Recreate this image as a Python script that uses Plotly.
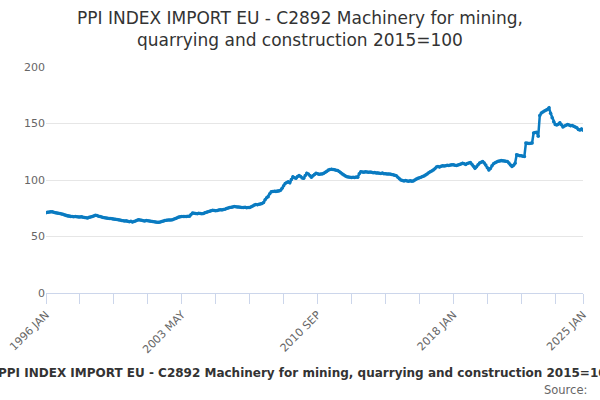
import plotly.graph_objects as go

# Monthly index values, Jan 1996 .. Jan 2025 (2015=100)
months = ["JAN", "FEB", "MAR", "APR", "MAY", "JUN", "JUL", "AUG", "SEP", "OCT", "NOV", "DEC"]
periods = [f"{y} {m}" for y in range(1996, 2025) for m in months] + ["2025 JAN"]

values = [
    71.1, 71.4, 71.7, 72.0, 71.8, 71.5, 71.0, 70.8, 70.5, 70.3, 70.0, 69.6,  # 1996
    69.0, 68.5, 68.2, 67.9, 67.8, 67.6, 67.5, 67.7, 67.4, 67.3, 67.2, 67.5,  # 1997
    67.0, 66.8, 66.6, 66.4, 67.0, 67.3, 67.8, 68.2, 68.8, 68.5, 68.0, 67.6,  # 1998
    67.2, 66.9, 66.6, 66.4, 66.2, 66.0, 65.9, 65.7, 65.5, 65.3, 65.0, 64.8,  # 1999
    64.5, 64.2, 64.0, 63.7, 63.9, 63.4, 63.0, 63.5, 62.8, 63.2, 63.8, 64.4,  # 2000
    64.9, 64.6, 64.3, 64.0, 63.8, 64.2, 63.9, 63.7, 63.5, 63.3, 63.0, 62.8,  # 2001
    62.6, 62.5, 62.9, 63.3, 63.8, 64.1, 64.3, 64.5, 64.7, 64.6, 64.9, 65.4,  # 2002
    66.0, 66.6, 67.3, 67.5, 67.6, 67.8, 67.7, 67.6, 67.9, 67.9, 69.5, 70.8,  # 2003
    70.5, 70.4, 70.2, 70.6, 70.3, 70.1, 70.3, 71.0, 71.5, 72.0, 72.4, 72.8,  # 2004
    73.2, 73.0, 72.8, 73.1, 73.4, 73.6, 73.5, 73.8, 74.2, 74.8, 75.2, 75.6,  # 2005
    75.9, 76.2, 76.5, 76.3, 76.0, 76.2, 75.9, 75.7, 75.6, 75.8, 75.5, 75.6,  # 2006
    75.6, 76.3, 77.0, 77.8, 78.3, 78.0, 78.5, 78.8, 79.2, 80.0, 82.5, 84.2,  # 2007
    85.1, 87.8, 89.6, 89.8, 90.0, 89.9, 90.1, 90.2, 91.0, 92.6, 95.0, 97.0,  # 2008
    97.8, 98.5, 97.5, 100.5, 102.9, 102.0, 101.5, 103.0, 104.0, 103.0, 101.8, 101.5,  # 2009
    104.0, 106.0, 105.2, 104.0, 102.4, 103.8, 104.9, 106.0, 105.5, 105.0, 105.2, 105.4,  # 2010
    106.0, 106.8, 107.8, 108.8, 109.3, 109.6, 109.4, 109.0, 108.7, 108.3, 107.5, 106.4,  # 2011
    105.4, 104.5, 103.5, 102.8, 102.6, 102.4, 102.3, 102.5, 102.2, 102.6, 102.4, 105.5,  # 2012
    107.4, 107.0, 106.8, 107.2, 107.0, 106.9, 107.1, 106.8, 106.4, 106.6, 106.2, 106.3,  # 2013
    106.0, 105.8, 106.1, 105.6, 105.5, 105.3, 105.4, 105.2, 104.9, 104.6, 104.3, 103.8,  # 2014
    102.5, 101.0, 100.0, 99.5, 99.2, 99.6, 99.1, 98.9, 99.3, 99.0, 99.1, 100.0,  # 2015
    100.8, 101.5, 102.0, 102.5, 103.0, 103.6, 104.5, 105.4, 106.5, 107.2, 108.0, 108.9,  # 2016
    110.0, 111.5, 112.0, 111.4, 112.2, 112.5, 112.3, 112.7, 113.0, 112.8, 113.2, 113.4,  # 2017
    113.4, 113.0, 112.8, 113.3, 113.7, 114.2, 114.9, 114.4, 113.8, 114.5, 115.0, 115.5,  # 2018
    114.0, 112.2, 110.4, 111.8, 113.6, 115.0, 115.8, 116.4, 115.0, 113.2, 110.8, 108.9,  # 2019
    110.2, 112.5, 114.3, 115.2, 116.0, 116.6, 116.8, 117.2, 117.0, 116.8, 116.5, 116.4,  # 2020
    115.0, 113.2, 111.9, 113.0, 114.9, 122.3, 122.0, 121.5, 121.4, 121.0, 120.8, 132.7,  # 2021
    132.5, 132.3, 132.6, 132.7, 141.6, 142.0, 142.2, 138.7, 157.1, 159.2, 160.2, 161.0,  # 2022
    161.8, 162.5, 164.0, 159.0, 155.1, 151.5, 149.1, 148.7, 149.4, 150.6, 148.8, 147.0,  # 2023
    147.8, 148.5, 149.1, 148.6, 147.9, 148.2, 147.5, 147.0, 146.2, 144.6, 144.2, 145.2,  # 2024
    144.0,  # 2025
]

title = "PPI INDEX IMPORT EU - C2892 Machinery for mining,<br>quarrying and construction 2015=100"
series_name = "PPI INDEX IMPORT EU - C2892 Machinery for mining, quarrying and construction 2015=100"
labelled = ["1996 JAN", "2003 MAY", "2010 SEP", "2018 JAN", "2025 JAN"]

# tick every 22 months, plus the last month
tick_vals = periods[::22] + [periods[-1]]
tick_text = [p if p in labelled else "" for p in tick_vals]

fig = go.Figure()
fig.add_trace(go.Scatter(
    x=periods, y=values,
    mode="lines+markers",
    line=dict(color="#0a7bc1", width=2.5),
    marker=dict(color="#0a7bc1", size=3.5),
    showlegend=False,
))

fig.update_layout(
    width=600, height=400,
    margin=dict(l=46, r=17, t=67, b=107),
    paper_bgcolor="white", plot_bgcolor="white",
    font=dict(family="DejaVu Sans", color="#666666"),
    title=dict(text=title, x=0.5, xanchor="center", y=0.94, yanchor="top",
               font=dict(family="DejaVu Sans", size=17, color="#333333")),
    xaxis=dict(
        type="category", range=[0, len(periods) - 1], automargin=False,
        tickmode="array", tickvals=tick_vals, ticktext=tick_text,
        tickangle=-45, tickfont=dict(size=11, color="#666666"),
        ticks="outside", ticklen=10, tickcolor="#ccd6eb",
        showline=True, linecolor="#ccd6eb", linewidth=1,
        showgrid=False, zeroline=False,
    ),
    yaxis=dict(
        range=[0, 200], dtick=50, automargin=False,
        gridcolor="#e6e6e6", zeroline=False, showline=False,
        tickfont=dict(size=11, color="#666666"), ticks="",
    ),
    annotations=[
        dict(text="<b>" + series_name + "</b>", xref="paper", yref="paper",
             x=(306 - 46) / 537, y=(293 - 373) / 226, xanchor="center", yanchor="middle",
             showarrow=False, font=dict(family="DejaVu Sans", size=12, color="#333333"),
             ),
        dict(text="Source:", xref="paper", yref="paper",
             x=(589 - 46) / 537, y=(293 - 390) / 226, xanchor="right", yanchor="middle",
             showarrow=False, font=dict(family="DejaVu Sans", size=11.5, color="#666666")),
    ],
)

fig.write_html("out.html", config={"displayModeBar": False},
               post_script="document.body.style.margin='0';")
